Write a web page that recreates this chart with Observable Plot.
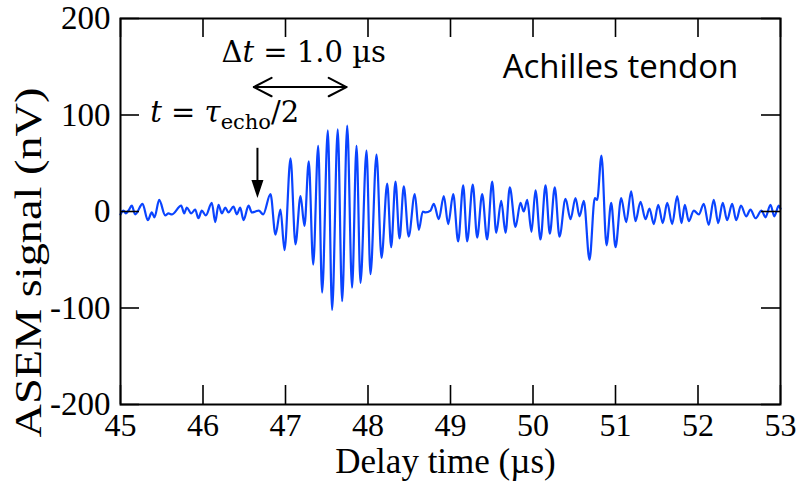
<!DOCTYPE html>
<html><head><meta charset="utf-8">
<script src="https://cdn.jsdelivr.net/npm/d3@7"></script>
<script src="https://cdn.jsdelivr.net/npm/@observablehq/plot@0.6"></script>
<style>body{margin:0;background:#fff} #chart{width:800px;height:492px}</style>
</head><body><div id="chart"></div>
<script>
// Extrema of the ASEM signal (µs, nV)
const time = [45.000,45.036,45.064,45.097,45.137,45.178,45.267,45.331,45.379,45.412,45.469,45.542,45.582,45.622,45.736,45.772,45.804,45.857,45.905,45.945,45.985,46.034,46.107,46.148,46.188,46.228,46.269,46.309,46.370,46.410,46.451,46.491,46.552,46.592,46.636,46.676,46.729,46.818,46.879,46.939,46.988,47.061,47.121,47.182,47.230,47.282,47.336,47.396,47.444,47.513,47.565,47.633,47.687,47.748,47.807,47.861,47.909,47.982,48.030,48.103,48.164,48.233,48.281,48.333,48.382,48.434,48.493,48.567,48.616,48.664,48.697,48.758,48.798,48.858,48.919,48.972,49.033,49.093,49.154,49.202,49.270,49.323,49.384,49.444,49.505,49.554,49.615,49.667,49.719,49.788,49.848,49.888,49.930,49.982,50.030,50.091,50.152,50.204,50.264,50.321,50.394,50.455,50.515,50.564,50.616,50.685,50.749,50.778,50.830,50.891,50.948,51.000,51.069,51.130,51.190,51.242,51.303,51.364,51.412,51.464,51.518,51.573,51.627,51.687,51.748,51.800,51.840,51.888,51.949,52.010,52.070,52.130,52.191,52.245,52.300,52.353,52.414,52.463,52.521,52.584,52.636,52.697,52.770,52.818,52.879,52.925,52.979,53.000];
const signal = [-3,1,-2,1,6,-3,8,-9,-1,-6,12,-4,-2,-3,6,-2,4,-2,2,-7,1,-4,9,-11,7,-2,4,-1,5,-3,4,-9,6,-1,0,1,-3,18,-24,2,-40,55,-34,16,-15,52,-55,68,-84,84,-102,85,-93,89,-79,68,-74,63,-65,59,-48,29,-37,31,-28,26,-26,18,-19,0,-1,1,8,-8,16,-13,18,-31,27,-31,28,-27,18,-29,31,-22,11,-22,25,-16,9,0,12,-21,22,-29,27,-23,25,-26,13,-8,14,-5,11,-50,14,12,58,-35,9,-37,14,-11,21,-10,10,-8,3,-13,7,-12,9,-13,16,-12,7,-10,1,-3,8,-14,12,-12,9,-9,8,-9,6,-5,2,-7,1,-6,7,-5,6,3];

const xTicks = [45,46,47,48,49,50,51,52,53];
const xTickLabels = ["45","46","47","48","49","50","51","52","53"];
const yTicks = [-200,-100,0,100,200];
const yTickLabels = ["-200","-100","0","100","200"];
const xTitle = "Delay time (µs)";
const yTitle = "ASEM signal (nV)";

// annotations
const sampleLabel = "Achilles tendon";
const sampleX = [51.06], sampleY = [149];
const dtLabel = "Δt = 1.0 µs";
const dtX = [47.22], dtY = [165];
const dtArrowT = [46.616, 47.739], dtArrowV = 129;
const tauLabel = "t = τecho/2";
const tauX = [45.36], tauY = [102];
const downArrowT = 46.66, downArrowTop = 66, downArrowTip = 14;

const data = time.map((t, i) => ({t, v: signal[i]}));
const W = 800, H = 492, mL = 120, mR = 20, mT = 18, mB = 88;
const fW = W - mL - mR, fH = H - mT - mB, tl = 19;
const blue = "#0a44ff";
const serif = "'Liberation Serif', 'Times New Roman', Times, serif";
const math = "'DejaVu Serif', serif";
const yTitleLen = 350;

const headSymbol = {draw(ctx) { ctx.moveTo(0, 0); ctx.lineTo(-6, -18); ctx.lineTo(6, -18); ctx.closePath(); }};

const plot = Plot.plot({
  width: W, height: H, marginLeft: mL, marginRight: mR, marginTop: mT, marginBottom: mB,
  x: {domain: [45, 53], axis: null},
  y: {domain: [-200, 200], axis: null},
  style: {fontFamily: serif, fontSize: "33px", color: "#000", background: "#fff", overflow: "visible"},
  marks: [
    Plot.line(data, {x: "t", y: "v", curve: "monotone-x", stroke: blue, strokeWidth: 2.2}),
    Plot.tickX(xTicks, {x: d => d, insetTop: fH - tl, stroke: "#000", strokeWidth: 1.6}),
    Plot.tickX(xTicks, {x: d => d, insetBottom: fH - tl, stroke: "#000", strokeWidth: 1.6}),
    Plot.tickY(yTicks, {y: d => d, insetRight: fW - tl, stroke: "#000", strokeWidth: 1.6}),
    Plot.tickY(yTicks, {y: d => d, insetLeft: fW - tl, stroke: "#000", strokeWidth: 1.6}),
    Plot.frame({stroke: "#000", strokeWidth: 2}),
    Plot.text(xTicks, {x: d => d, text: (d, i) => xTickLabels[i], frameAnchor: "bottom", lineAnchor: "top", dy: 9, fontSize: 32, fontFamily: serif, fill: "#000"}),
    Plot.text(yTicks, {y: d => d, text: (d, i) => yTickLabels[i], frameAnchor: "left", textAnchor: "end", dx: -10, fontSize: 33, fontFamily: serif, fill: "#000"}),
    Plot.text([xTitle], {frameAnchor: "bottom", dy: 68, dx: -5, fontSize: 35, fontFamily: serif, fill: "#000"}),
    Plot.text([yTitle], {frameAnchor: "left", dx: -91, dy: 51 + yTitleLen / 2, rotate: -90, textAnchor: "start", fontSize: 37, fontFamily: serif, fill: "#000", className: "ytitle"}),
    Plot.text([sampleLabel], {x: sampleX, y: sampleY, fontSize: 33, fontFamily: "'Open Sans', sans-serif", fill: "#000"}),
    Plot.text([dtLabel], {x: dtX, y: dtY, fontSize: 29, fontFamily: math, fill: "#000", className: "dtlabel"}),
    Plot.text([tauLabel], {x: tauX, y: tauY, fontSize: 29, fontFamily: math, fill: "#000", textAnchor: "start", className: "taulabel"}),
    Plot.arrow([[0, 1], [1, 0]], {x1: d => dtArrowT[d[0]], x2: d => dtArrowT[d[1]], y1: dtArrowV, y2: dtArrowV, stroke: "#000", strokeWidth: 2, headLength: 15, headAngle: 55}),
    Plot.link([0], {x1: downArrowT, x2: downArrowT, y1: downArrowTop, y2: downArrowTip + 12, stroke: "#000", strokeWidth: 2}),
    Plot.dot([0], {x: downArrowT, y: downArrowTip, symbol: headSymbol, r: 5, fill: "#000", stroke: "none"})
  ]
});
document.getElementById("chart").appendChild(plot);
const svg = d3.select(plot);
svg.select("g.ytitle text").attr("textLength", yTitleLen).attr("lengthAdjust", "spacingAndGlyphs");
svg.select("g.dtlabel text").html('Δ<tspan font-style="italic">t</tspan> = 1.0 µs');
svg.select("g.taulabel text").html('<tspan font-style="italic">t</tspan> = <tspan font-style="italic">τ</tspan><tspan font-size="21" dy="7">echo</tspan><tspan dy="-7">/2</tspan>');
</script>
</body></html>
